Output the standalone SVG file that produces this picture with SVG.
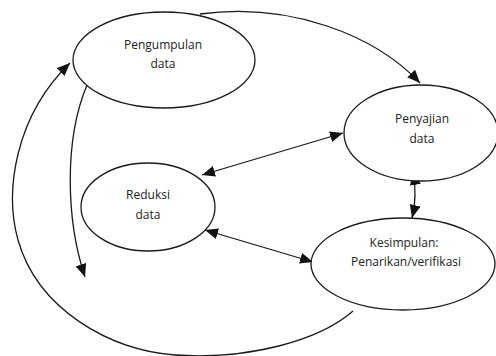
<svg xmlns="http://www.w3.org/2000/svg" width="496" height="356" viewBox="0 0 496 356">
<style>
.n{fill:#fff;stroke:#1a1a1a;stroke-width:1.3}
.t{font-family:"Open Sans","Liberation Sans",sans-serif;font-size:12px;fill:#222;text-anchor:middle}
.c{fill:none;stroke:#1a1a1a;stroke-width:1.3}
</style>
<defs>
<marker id="ae" viewBox="0 0 13 11" refX="13" refY="5.5" markerWidth="13" markerHeight="11" markerUnits="userSpaceOnUse" orient="auto-start-reverse">
<path d="M0,0 L13,5.5 L0,11 Z" fill="#111"/>
</marker>
</defs>
<rect width="496" height="356" fill="#fff"/>
<g id="connectors">
<path class="c" d="M200,14 C 290,2 375,35 420,83" marker-end="url(#ae)"/>
<path class="c" d="M202,175 L343,133" marker-start="url(#ae)" marker-end="url(#ae)"/>
<path class="c" d="M205,230 L313,262" marker-start="url(#ae)" marker-end="url(#ae)"/>
<path class="c" d="M413,172 C 416,188 416,202 412,218" marker-start="url(#ae)" marker-end="url(#ae)"/>
<path class="c" d="M87,85 C 64,140 66,220 85,277" marker-end="url(#ae)"/>
<path class="c" d="M353,311 C 320,340 250,360 175,355 C 110,350 38,310 18,240 C 4,190 16,115 70,63" marker-end="url(#ae)"/>
</g>
<g id="pengumpulan">
<ellipse class="n" cx="164" cy="60" rx="91" ry="48"/>
<text class="t" x="163" y="49">Pengumpulan</text>
<text class="t" x="163" y="68">data</text>
</g>
<g id="penyajian">
<ellipse class="n" cx="421" cy="133" rx="77" ry="48"/>
<text class="t" x="422" y="123">Penyajian</text>
<text class="t" x="422" y="143">data</text>
</g>
<g id="reduksi">
<ellipse class="n" cx="148" cy="207" rx="67" ry="44"/>
<text class="t" x="148" y="199">Reduksi</text>
<text class="t" x="148" y="219">data</text>
</g>
<g id="kesimpulan">
<ellipse class="n" cx="403" cy="264" rx="92" ry="46"/>
<text class="t" x="404" y="247">Kesimpulan:</text>
<text class="t" x="406" y="266">Penarikan/verifikasi</text>
</g>
</svg>
